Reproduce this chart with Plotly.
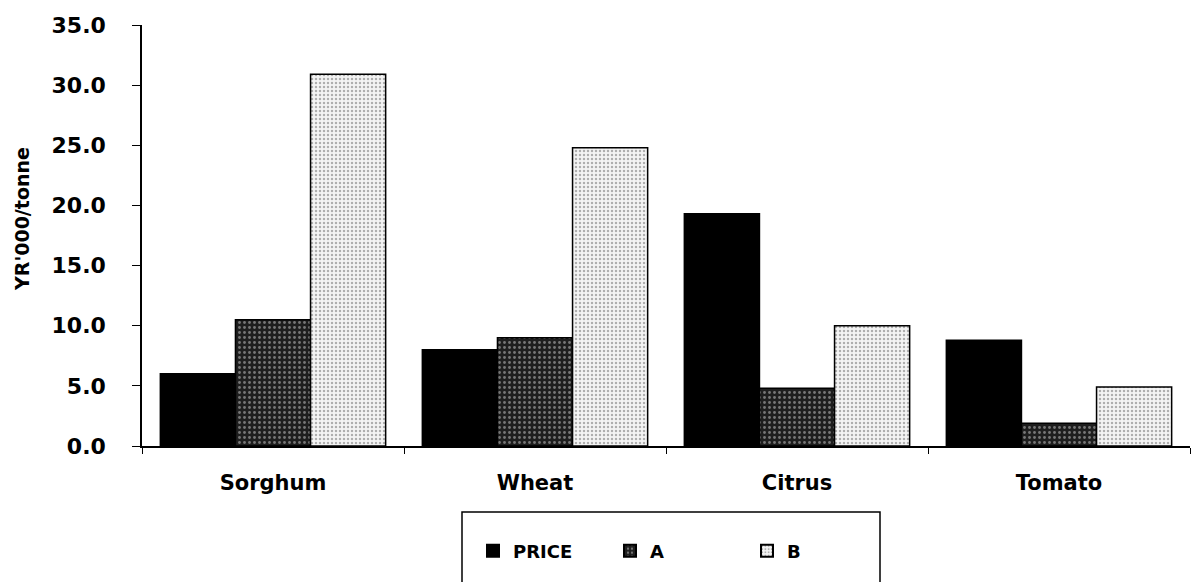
import plotly.graph_objects as go

categories = ["Sorghum", "Wheat", "Citrus", "Tomato"]
price = [6.0, 8.0, 19.3, 8.8]
series_a = [10.5, 9.0, 4.8, 1.9]
series_b = [30.9, 24.8, 10.0, 4.9]
y_ticks = [0, 5, 10, 15, 20, 25, 30, 35]
y_tick_labels = [f"{v:.1f}" for v in y_ticks]
y_title = "YR'000/tonne"

W, H = 1197, 582
ml, mr, mt, mb = 142, 7, 25, 136
pw, ph = W - ml - mr, H - mt - mb

font = "DejaVu Sans, Verdana, sans-serif"

fig = go.Figure()
fig.add_trace(go.Bar(
    name="PRICE", x=categories, y=price,
    marker=dict(color="black", line=dict(color="black", width=1.5)),
))
fig.add_trace(go.Bar(
    name="A", x=categories, y=series_a,
    marker=dict(color="#1e1e1e", line=dict(color="black", width=1.5),
                pattern=dict(shape=".", bgcolor="#1e1e1e", fgcolor="#cfcfcf",
                             size=5, solidity=0.25)),
))
fig.add_trace(go.Bar(
    name="B", x=categories, y=series_b,
    marker=dict(color="#d8d8d8", line=dict(color="black", width=1.5),
                pattern=dict(shape=".", bgcolor="#f4f4f4", fgcolor="#6a6a6a",
                             size=4, solidity=0.3)),
))

def px_x(p):
    return (p - ml) / pw

def px_y(p):
    return (H - mb - p) / ph

fig.update_layout(
    width=W, height=H,
    margin=dict(l=ml, r=mr, t=mt, b=mb),
    paper_bgcolor="white", plot_bgcolor="white",
    barmode="group", bargap=0.14, bargroupgap=0,
    font=dict(family=font, color="black"),
    showlegend=True,
    legend=dict(
        orientation="h", x=px_x(473), y=px_y(551), xanchor="left", yanchor="middle",
        font=dict(family=font, size=18, color="black", weight="bold"),
        entrywidth=92, entrywidthmode="pixels",
        bgcolor="rgba(0,0,0,0)", borderwidth=0,
        itemsizing="constant",
    ),
    xaxis=dict(
        type="category", range=[-0.5, 3.5],
        showline=True, linecolor="black", linewidth=1.5,
        ticks="outside", ticklen=6, tickcolor="black", tickson="boundaries",
        tickfont=dict(family=font, size=21, color="black", weight="bold"),
        ticklabelstandoff=17,
        showgrid=False, zeroline=False,
    ),
    yaxis=dict(
        range=[0, 35], tickvals=y_ticks, ticktext=y_tick_labels,
        showline=True, linecolor="black", linewidth=1.5,
        ticks="outside", ticklen=8, tickcolor="black",
        tickfont=dict(family=font, size=22, color="black", weight="bold"),
        ticklabelstandoff=22,
        showgrid=False, zeroline=False,
    ),
    annotations=[dict(
        text=y_title, xref="paper", yref="paper",
        x=px_x(22), y=px_y(219), xanchor="center", yanchor="middle",
        textangle=-90, showarrow=False,
        font=dict(family=font, size=19, color="black", weight="bold"),
    )],
    shapes=[dict(
        type="rect", xref="paper", yref="paper",
        x0=px_x(462), x1=px_x(880), y0=px_y(512), y1=px_y(600),
        line=dict(color="black", width=1.5), fillcolor="rgba(0,0,0,0)",
    )],
)

fig.write_html("out.html")
